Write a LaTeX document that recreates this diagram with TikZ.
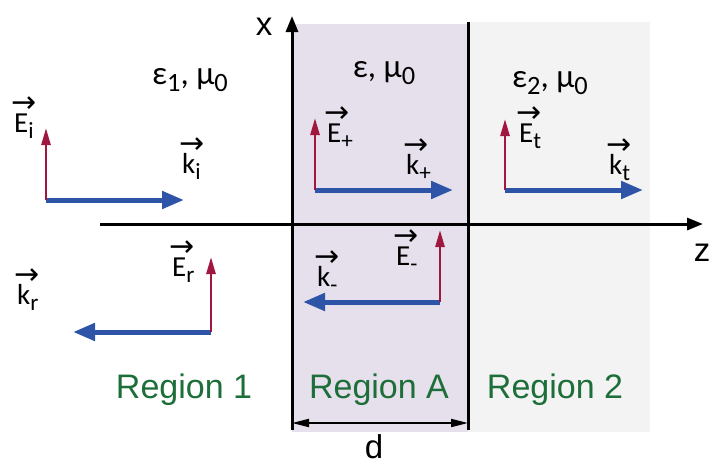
\documentclass[tikz,border=0pt]{standalone}
\usepackage{fontspec}
\setmainfont{Carlito}
\newfontfamily\arialfont{Liberation Sans}
\newfontfamily\arrowfont{DejaVu Sans}
\usepackage{tikz}
\usetikzlibrary{arrows.meta, positioning}
\definecolor{slabpurple}{RGB}{230,224,236}
\definecolor{outgray}{RGB}{242,243,242}
\definecolor{efieldred}{RGB}{160,23,63}
\definecolor{kblue}{RGB}{46,84,168}
\definecolor{regiongreen}{RGB}{30,110,58}
\newcommand{\lo}[1]{\raisebox{-0.22em}{\scalebox{0.8}{#1}}}
\newcommand{\vlab}[2]{\rlap{\hspace{-3pt}\raisebox{19.5pt}{\fontsize{30}{30}\arrowfont →}}#1\lo{#2}}

\begin{document}
\begin{tikzpicture}[x=1pt, y=-1pt,
    eline/.style={draw=efieldred, line width=2.6pt, -{Triangle[length=17pt,width=9pt]}},
    kline/.style={draw=kblue, line width=5pt, -{Triangle[length=22pt,width=17pt]}},
    axis/.style={line width=3pt, -{Triangle[length=16pt,width=12pt]}},
    vlabel/.style={font=\fontsize{29}{32}\selectfont, inner sep=0pt, anchor=base west},
    medium/.style={font=\fontsize{33}{38}\selectfont, inner sep=0pt, anchor=base},
    region/.style={font=\arialfont\fontsize{34}{38}\selectfont, text=regiongreen, inner sep=0pt, anchor=base},
    axlabel/.style={font=\arialfont\fontsize{33}{38}\selectfont, inner sep=0pt, anchor=base}]
\useasboundingbox (0,0) rectangle (711,466);

% Backgrounds
\fill[slabpurple] (292,24) rectangle (468,432);
\fill[outgray] (468,22) rectangle (650,432);

% Axes and boundaries
\coordinate (zstart) at (100,224);
\coordinate (zend) at (703,224);
\coordinate (xbot) at (292,430);
\coordinate (xtop) at (292,16);
\coordinate (bbot) at (468,430);
\coordinate (btop) at (468,22);
\draw[axis] (zstart) -- (zend);
\draw[axis] (xbot) -- (xtop);
\draw[line width=3pt] (bbot) -- (btop);
\node[axlabel] (xlab) at (264,35) {x};
\node[axlabel] (zlab) at (702,261) {z};

% Thickness
\coordinate (dleft) at (292,423);
\coordinate (dright) at (468,423);
\draw[line width=2pt, {Triangle[length=17pt,width=8pt]}-{Triangle[length=17pt,width=8pt]}] (dleft) -- (dright);
\node[axlabel] (dlab) at (374,458) {d};

% Media
\node[medium] (med1) at (190,84) {ε\lo{1}, μ\lo{0}};
\node[medium] (medA) at (384,77) {ε, μ\lo{0}};
\node[medium] (med2) at (550,87) {ε\lo{2}, μ\lo{0}};

% Incident wave
\coordinate (oi) at (46,200);
\coordinate (ei) at (46,128);
\coordinate (ki) at (184,200);
\draw[kline] (oi) -- (ki);
\draw[eline] (oi) -- (ei);
\node[vlabel] (Ei) at (14,132) {\vlab{E}{i}};
\node[vlabel] (kiLab) at (182,173) {\vlab{k}{i}};

% Forward wave in slab
\coordinate (op) at (315,190);
\coordinate (ep) at (315,118);
\coordinate (kp) at (453,190);
\draw[kline] (op) -- (kp);
\draw[eline] (op) -- (ep);
\node[vlabel] (Ep) at (327,142) {\vlab{E}{+}};
\node[vlabel] (kpLab) at (406,174) {\vlab{k}{+}};

% Transmitted wave
\coordinate (ot) at (505,190);
\coordinate (et) at (505,119);
\coordinate (kt) at (643,190);
\draw[kline] (ot) -- (kt);
\draw[eline] (ot) -- (et);
\node[vlabel] (Et) at (519,142) {\vlab{E}{t}};
\node[vlabel] (ktLab) at (609,174) {\vlab{k}{t}};

% Reflected wave
\coordinate (or) at (211,332);
\coordinate (er) at (211,257);
\coordinate (kr) at (73,332);
\draw[kline] (or) -- (kr);
\draw[eline] (or) -- (er);
\node[vlabel] (Er) at (172,276) {\vlab{E}{r}};
\node[vlabel] (krLab) at (17,304) {\vlab{k}{r}};

% Backward wave in slab
\coordinate (om) at (440,302);
\coordinate (em) at (440,230);
\coordinate (km) at (303,302);
\draw[kline] (om) -- (km);
\draw[eline] (om) -- (em);
\node[vlabel] (Em) at (396,265) {\vlab{E}{-}};
\node[vlabel] (kmLab) at (317,286) {\vlab{k}{-}};

% Regions
\node[region] (reg1) at (184,398) {Region 1};
\node[region] (regA) at (379,398) {Region A};
\node[region] (reg2) at (555,398) {Region 2};
\end{tikzpicture}
\end{document}
